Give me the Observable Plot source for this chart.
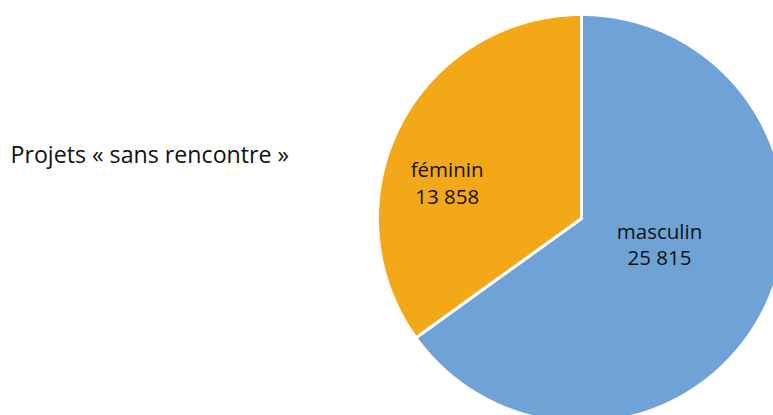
<!DOCTYPE html>
<html><head><meta charset="utf-8">
<script src="https://cdn.jsdelivr.net/npm/d3@7"></script>
<script src="https://cdn.jsdelivr.net/npm/@observablehq/plot@0.6"></script>
<style>body{margin:0;background:#fff;overflow:hidden}</style>
</head><body><div id="chart"></div>
<script>
const categories = ["masculin", "féminin"];
const values = [25815, 13858];
const colors = ["#6FA3D7", "#F3A817"];
const title = "Projets « sans rencontre »";

const W = 773, H = 415, cx = 581, cy = 218, R = 204;
const labelStyle = {"masculin": {r: 0.43, dy: -15}, "féminin": {r: 0.74, dy: 32}};

const fr = d3.formatLocale({decimal: ",", thousands: " ", grouping: [3], currency: ["", " €"]});
const fmt = fr.format(",d");

const rows = categories.map((c, i) => ({category: c, value: values[i]}));
const arcs = d3.pie().sort(null).value(d => d.value)(rows);

const points = [];
const labels = [];
for (const a of arcs) {
  const c = a.data.category;
  points.push({category: c, x: 0, y: 0});
  const n = Math.max(2, Math.ceil((a.endAngle - a.startAngle) / 0.005));
  for (let k = 0; k <= n; k++) {
    const t = a.startAngle + (a.endAngle - a.startAngle) * k / n;
    points.push({category: c, x: Math.sin(t), y: Math.cos(t)});
  }
  const m = (a.startAngle + a.endAngle) / 2;
  const s = labelStyle[c];
  labels.push({category: c, x: s.r * Math.sin(m), y: s.r * Math.cos(m), dy: s.dy, text: c + "\n" + fmt(a.data.value)});
}

const chart = Plot.plot({
  width: W, height: H,
  margin: 0,
  style: {fontFamily: "Open Sans", background: "#fff", color: "#000"},
  x: {domain: [-cx / R, (W - cx) / R], axis: null},
  y: {domain: [-(H - cy) / R, cy / R], axis: null},
  color: {domain: categories, range: colors},
  marks: [
    Plot.line(points, {x: "x", y: "y", z: "category", fill: "category", stroke: "white", strokeWidth: 3, strokeLinejoin: "miter", curve: "linear-closed", clip: true}),
    ...labels.map(l => Plot.text([l], {x: "x", y: "y", text: "text", dy: l.dy, fontSize: 20.5, lineHeight: 1.3, fill: "#111"})),
    Plot.text([title], {frameAnchor: "left", dx: 10, dy: -52.5, textAnchor: "start", fontSize: 23.2, fill: "#111"})
  ]
});
document.getElementById("chart").appendChild(chart);
</script>
</body></html>
